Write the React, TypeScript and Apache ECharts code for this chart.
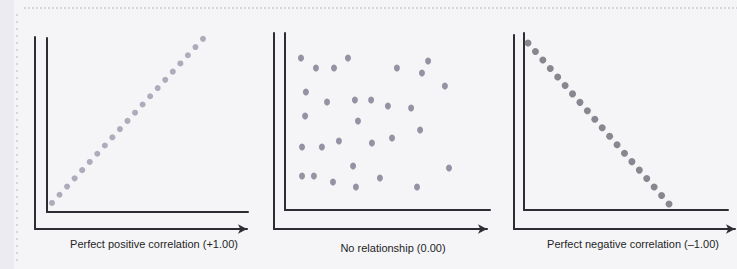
import React, { useEffect, useRef } from "react";
import * as echarts from "echarts";

const panelTitles = [
  "Perfect positive correlation (+1.00)",
  "No relationship (0.00)",
  "Perfect negative correlation (\u20131.00)",
];

const positivePoints: number[][] = [
  [1, 1], [2, 2], [3, 3], [4, 4], [5, 5], [6, 6], [7, 7], [8, 8], [9, 9], [10, 10],
  [11, 11], [12, 12], [13, 13], [14, 14], [15, 15], [16, 16], [17, 17], [18, 18],
  [19, 19], [20, 20], [21, 21],
];

const noRelationPoints: number[][] = [
  [7.8, 85.9], [15.1, 80.2], [23.9, 80.2], [30.7, 85.9], [54.6, 80.2], [66.8, 77.4],
  [69.8, 84.2], [78.0, 70.1], [10.2, 66.7], [20.5, 61.0], [34.1, 62.1], [42.0, 62.1],
  [50.2, 58.8], [61.5, 57.6], [9.8, 53.1], [35.6, 50.3], [65.9, 45.2], [8.3, 35.6],
  [18.0, 35.6], [26.3, 39.0], [42.4, 37.9], [52.2, 40.7], [33.2, 24.9], [8.3, 19.2],
  [14.1, 19.2], [23.4, 15.8], [34.6, 13.0], [46.3, 18.1], [64.4, 13.0], [80.0, 23.7],
];

const negativePoints: number[][] = [
  [1, 20], [2, 19], [3, 18], [4, 17], [5, 16], [6, 15], [7, 14], [8, 13], [9, 12], [10, 11],
  [11, 10], [12, 9], [13, 8], [14, 7], [15, 6], [16, 5], [17, 4], [18, 3], [19, 2], [20, 1],
];

export default function App() {
  const ref = useRef<HTMLDivElement>(null);
  useEffect(() => {
    document.body.style.margin = "0";
    const chart = echarts.init(ref.current!, null, { renderer: "svg" });
    const axisColor = "#2d2d33";
    const hidden = {
      axisTick: { show: false },
      axisLabel: { show: false },
      splitLine: { show: false },
    };
    const outerX = (gi: number) => ({
      type: "value", gridIndex: gi, min: 0, max: 1, ...hidden,
      axisLine: { show: true, onZero: false, symbol: ["none", "arrow"], symbolSize: [7, 9],
        lineStyle: { color: axisColor, width: 2 } },
    });
    const outerY = (gi: number) => ({
      type: "value", gridIndex: gi, min: 0, max: 1, ...hidden,
      axisLine: { show: true, onZero: false, lineStyle: { color: axisColor, width: 2 } },
    });
    const innerX = (gi: number, min: number, max: number) => ({
      type: "value", gridIndex: gi, min, max, ...hidden,
      axisLine: { show: true, onZero: false, lineStyle: { color: axisColor, width: 2 } },
    });
    const innerY = innerX;
    const titleStyle = {
      fontFamily: "Liberation Sans, Arial, sans-serif",
      fontSize: 11,
      fontWeight: "normal",
      color: "#1f1f25",
    };

    chart.setOption({
      animation: false,
      backgroundColor: "#f5f5f8",
      title: [
        { text: panelTitles[0], left: 149, top: 233, textAlign: "center", textStyle: titleStyle },
        { text: panelTitles[1], left: 388, top: 237, textAlign: "center", textStyle: titleStyle },
        { text: panelTitles[2], left: 628, top: 233, textAlign: "center", textStyle: titleStyle },
      ],
      graphic: [
        { type: "rect", shape: { x: 0, y: 0, width: 14, height: 269 }, style: { fill: "#ebebf1" }, silent: true },
        { type: "line", shape: { x1: 24, y1: 8, x2: 737, y2: 8 }, style: { stroke: "#b4b4c0", lineWidth: 1, lineDash: [2, 2] }, silent: true },
        { type: "line", shape: { x1: 17, y1: 14, x2: 17, y2: 262 }, style: { stroke: "#b4b4c0", lineWidth: 1, lineDash: [2, 5] }, silent: true },
      ],
      grid: [
        { left: 35, top: 37, width: 212, height: 192 },
        { left: 47, top: 38, width: 201, height: 174 },
        { left: 274, top: 33, width: 213, height: 196 },
        { left: 285, top: 33, width: 205, height: 177 },
        { left: 514, top: 35, width: 221, height: 194 },
        { left: 524, top: 33, width: 204, height: 177 },
      ],
      xAxis: [
        outerX(0), innerX(1, 0.34, 26.96),
        outerX(2), innerX(3, 0, 100),
        outerX(4), innerX(5, 0.46, 27.95),
      ],
      yAxis: [
        outerY(0), innerY(1, -0.1, 21.1),
        outerY(2), innerY(3, 0, 100),
        outerY(4), innerY(5, 0.29, 21.19),
      ],
      series: [
        { type: "scatter", xAxisIndex: 1, yAxisIndex: 1, data: positivePoints, symbolSize: 6,
          itemStyle: { color: "#9a9aab" } },
        { type: "scatter", xAxisIndex: 3, yAxisIndex: 3, data: noRelationPoints, symbolSize: [6, 7],
          itemStyle: { color: "#7b7b8e" } },
        { type: "scatter", xAxisIndex: 5, yAxisIndex: 5, data: negativePoints, symbolSize: 7,
          itemStyle: { color: "#6c6c76" } },
      ],
    });
    return () => chart.dispose();
  }, []);
  return <div ref={ref} style={{ position: "absolute", left: 0, top: 0, width: 737, height: 269 }} />;
}
